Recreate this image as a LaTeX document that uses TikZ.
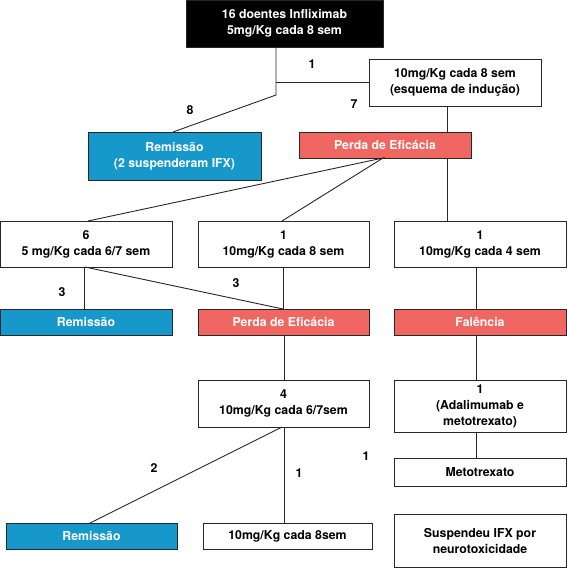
\documentclass[tikz,border=0pt]{standalone}
\usepackage{fontspec}
\setmainfont{TeX Gyre Heros}
\usepackage{tikz}
\definecolor{remblue}{RGB}{22,152,203}
\definecolor{perdared}{RGB}{240,102,96}
\definecolor{inkgray}{RGB}{40,38,38}

\begin{document}
\begin{tikzpicture}[x=1pt,y=-1pt,
  txt/.style={font=\bfseries\fontsize{12.3}{16}\selectfont,align=center},
  box/.style={txt,draw=inkgray,line width=1pt,inner sep=0pt,outer sep=0pt,
    minimum width=172pt,fill=white},
  bluebox/.style={box,fill=remblue,text=white},
  redbox/.style={box,fill=perdared,text=white},
  num/.style={txt,inner sep=0pt},
  link/.style={draw=inkgray,line width=0.9pt}]
\useasboundingbox (0,0) rectangle (566,568);
% first line of treatment
\node[box,fill=black,text=white,minimum width=197pt,minimum height=47pt] (start) at (284.5,23.5)
  {16 doentes Infliximab\\5mg/Kg cada 8 sem};
\node[box,minimum height=47pt] (ind) at (455,82.5) {10mg/Kg cada 8 sem\\(esquema de indução)};
\node[bluebox,minimum width=173pt,minimum height=48pt] (rem1) at (174.5,156) {Remissão\\(2 suspenderam IFX)};
\node[redbox,minimum height=26pt] (perda1) at (385,145) {Perda de Eficácia};
% second line
\node[box,minimum height=46pt] (optA) at (86,244) {6\\5 mg/Kg cada 6/7 sem};
\node[box,minimum width=171pt,minimum height=46pt] (optB) at (283.5,244) {1\\10mg/Kg cada 8 sem};
\node[box,minimum height=46pt] (optC) at (480,244) {1\\10mg/Kg cada 4 sem};
\node[bluebox,minimum height=26pt] (rem2) at (86,322) {Remissão};
\node[redbox,minimum width=171pt,minimum height=26pt] (perda2) at (283.5,322) {Perda de Eficácia};
\node[redbox,minimum height=26pt] (fal) at (480,322) {Falência};
% third line
\node[box,minimum width=171pt,minimum height=47pt] (optD) at (283.5,403.5) {4\\10mg/Kg cada 6/7sem};
\node[box,minimum height=52pt] (optE) at (480,406) {1\\(Adalimumab e\\metotrexato)};
\node[box,minimum height=28pt] (met) at (480,472) {Metotrexato};
\node[bluebox,minimum width=171pt,minimum height=26pt] (rem3) at (91.5,536) {Remissão};
\node[box,minimum width=169pt,minimum height=26pt] (optF) at (287.5,536) {10mg/Kg cada 8sem};
\node[box,minimum height=53pt] (neuro) at (480,540.5) {Suspendeu IFX por\\neurotoxicidade};
% patient counts
\node[num] (n1) at (312,64) {1};
\node[num] (n7) at (354,104) {7};
\node[num] (n8) at (190,110) {8};
\node[num] (n3a) at (62,292) {3};
\node[num] (n3b) at (236,283) {3};
\node[num] (n2) at (154,468) {2};
\node[num] (n1b) at (299,473) {1};
\node[num] (n1c) at (366,456) {1};
% connectors
\coordinate (split) at (276,82);
\coordinate (bend) at (276,95);
\coordinate (rcol) at (447,0);
\coordinate (ecol) at (476,0);
\draw[link] (start.south -| split) -- (bend) -- (rem1.north -| 173,0);
\draw[link] (split) -- (split -| ind.west);
\draw[link] (ind.south -| rcol) -- (perda1.north -| rcol);
\draw[link] (perda1.south -| rcol) -- (optC.north -| rcol);
\draw[link] (optA.north -| 88,0) -- (perda1.south -| 383,0) -- (optB.north -| 282,0);
\draw[link] (optA.south -| 84,0) -- (rem2.north -| 84,0);
\draw[link] (optA.south -| 85,0) -- (perda2.north -| 283,0);
\draw[link] (optB.south -| 283,0) -- (perda2.north -| 283,0);
\draw[link] (optC.south -| ecol) -- (fal.north -| ecol);
\draw[link] (fal.south -| ecol) -- (optE.north -| ecol);
\draw[link] (optE.south -| ecol) -- (met.north -| ecol);
\draw[link] (perda2.south -| 284,0) -- (optD.north -| 284,0);
\draw[link] (optD.south -| 282,0) -- (rem3.north -| 90,0);
\draw[link] (optD.south -| 284,0) -- (optF.north -| 284,0);
\end{tikzpicture}
\end{document}
